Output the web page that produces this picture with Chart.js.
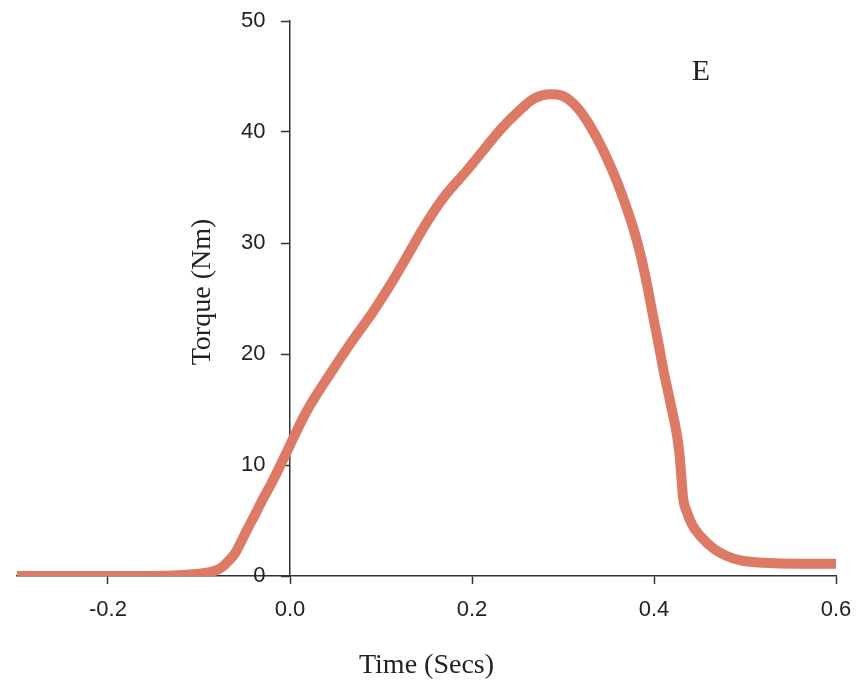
<!DOCTYPE html>
<html>
<head>
<meta charset="utf-8">
<script src="https://cdn.jsdelivr.net/npm/chart.js@4.4.1/dist/chart.umd.min.js"></script>
<style>
  html, body { margin: 0; padding: 0; background: #fff; }
  #wrap { width: 858px; height: 686px; }
</style>
</head>
<body>
<div id="wrap"><canvas id="chart-canvas" width="858" height="686"></canvas></div>
<script>
// time (s) and torque (Nm)
const timeSecs = [
  -0.300, -0.200, -0.130, -0.100, -0.088, -0.080, -0.074, -0.067, -0.060, -0.053,
  -0.047, -0.038, -0.030, -0.020, -0.011, 0.000, 0.018, 0.044, 0.066, 0.092,
  0.110, 0.128, 0.147, 0.168, 0.194, 0.212, 0.231, 0.253, 0.268, 0.286,
  0.298, 0.311, 0.324, 0.337, 0.348, 0.359, 0.368, 0.377, 0.385, 0.392,
  0.399, 0.405, 0.410, 0.418, 0.425, 0.428, 0.430, 0.432, 0.436, 0.442,
  0.452, 0.465, 0.480, 0.495, 0.520, 0.560, 0.600
];
const torqueNm = [
  0.0, 0.0, 0.05, 0.2, 0.35, 0.55, 0.85, 1.4, 2.1, 3.2,
  4.2, 5.6, 6.9, 8.4, 9.9, 11.8, 14.8, 18.2, 20.9, 23.9,
  26.2, 28.7, 31.4, 34.0, 36.5, 38.3, 40.2, 42.0, 43.0, 43.4,
  43.3, 42.6, 41.3, 39.5, 37.7, 35.6, 33.6, 31.4, 29.0, 26.4,
  23.4, 20.9, 18.7, 15.6, 12.8, 11.0, 9.0, 7.0, 5.8, 4.6,
  3.5, 2.5, 1.8, 1.4, 1.2, 1.1, 1.1
];
const xTicks = [-0.2, 0.0, 0.2, 0.4, 0.6];
const yTicks = [0, 10, 20, 30, 40, 50];

const points = timeSecs.map((t, i) => ({ x: t, y: torqueNm[i] }));

// y title and the panel letter
const extraText = {
  id: 'extraText',
  afterDraw(chart) {
    const ctx = chart.ctx;
    ctx.save();
    ctx.fillStyle = '#222';
    ctx.font = '28px "Liberation Serif"';
    ctx.textAlign = 'center';
    ctx.textBaseline = 'middle';
    ctx.translate(203, 292);
    ctx.rotate(-Math.PI / 2);
    ctx.fillText('Torque (Nm)', 0, 0);
    ctx.restore();

    ctx.save();
    ctx.fillStyle = '#222';
    ctx.font = '30px "Liberation Serif"';
    ctx.textAlign = 'center';
    ctx.textBaseline = 'middle';
    ctx.fillText('E', 701, 72);
    ctx.restore();
  }
};

const chartCtx = document.getElementById('chart-canvas');

const torqueChart = new Chart(chartCtx, {
  type: 'line',
  data: {
    datasets: [{
      data: points,
      borderColor: '#DC7A65',
      borderWidth: 10,
      borderCapStyle: 'round',
      borderJoinStyle: 'round',
      pointRadius: 0,
      cubicInterpolationMode: 'monotone',
      fill: false
    }]
  },
  options: {
    responsive: false,
    animation: false,
    layout: { padding: { left: 17, right: 22, top: 21, bottom: 4 } },
    plugins: { legend: { display: false }, tooltip: { enabled: false } },
    scales: {
      x: {
        type: 'linear',
        min: -0.3,
        max: 0.6,
        position: 'bottom',
        afterBuildTicks: s => { s.ticks = xTicks.map(v => ({ value: v })); },
        afterFit: s => { s.paddingLeft = 0; s.paddingRight = 0; },
        grid: { drawOnChartArea: false, drawTicks: true, tickLength: 8, color: '#333', tickWidth: 1.5 },
        border: { display: true, color: '#333', width: 1.5 },
        ticks: {
          font: { family: 'Liberation Sans', size: 22 },
          color: '#222',
          padding: 13,
          maxRotation: 0,
          callback: v => v.toFixed(1)
        },
        title: {
          display: true,
          text: 'Time (Secs)',
          font: { family: 'Liberation Serif', size: 28 },
          color: '#222',
          padding: { top: 12, bottom: 0 }
        }
      },
      y: {
        type: 'linear',
        min: 0,
        max: 50,
        position: { x: 0 },
        afterBuildTicks: s => { s.ticks = yTicks.map(v => ({ value: v })); },
        afterFit: s => { s.paddingTop = 0; s.paddingBottom = 0; },
        grid: { drawOnChartArea: false, drawTicks: true, tickLength: 8, color: '#333', tickWidth: 1.5 },
        border: { display: true, color: '#333', width: 1.5 },
        ticks: {
          font: { family: 'Liberation Sans', size: 22 },
          color: '#222',
          // labels sit right on the axis when it is placed at x = 0, so pad them
          callback: v => v + '    '
        }
      }
    }
  },
  plugins: [extraText]
});
</script>
</body>
</html>
